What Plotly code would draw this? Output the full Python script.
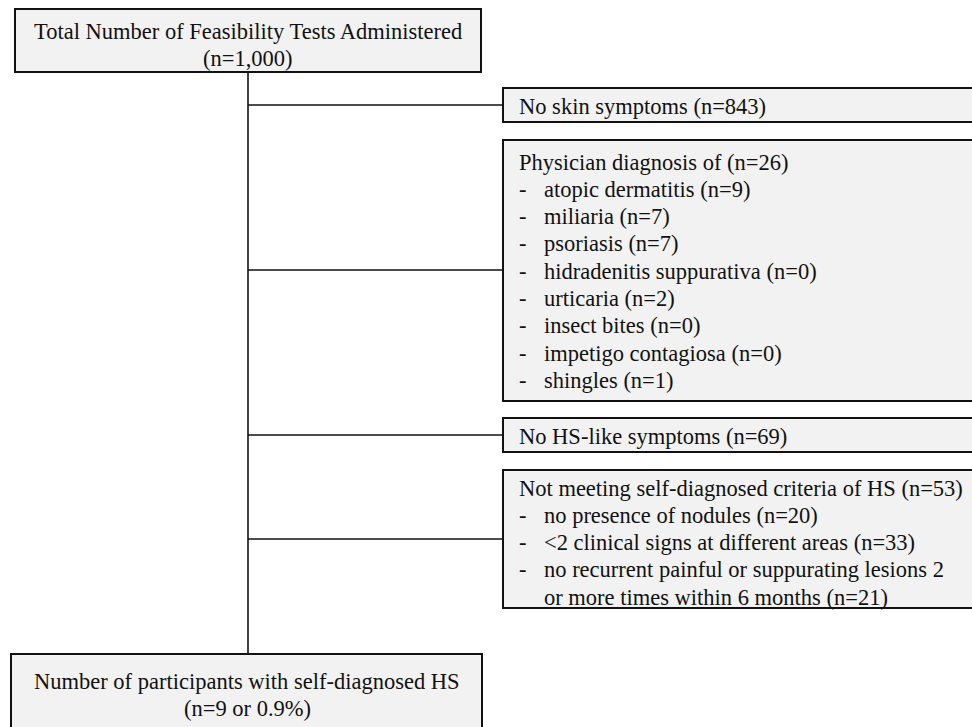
import plotly.graph_objects as go

# ---- data ----
total_label = "Total Number of Feasibility Tests Administered"
total_n = "1,000"
no_skin_label = "No skin symptoms"
no_skin_n = 843
physician_label = "Physician diagnosis of"
physician_n = 26
physician_items = ["atopic dermatitis", "miliaria", "psoriasis", "hidradenitis suppurativa",
                   "urticaria", "insect bites", "impetigo contagiosa", "shingles"]
physician_counts = [9, 7, 7, 0, 2, 0, 0, 1]
no_hs_label = "No HS-like symptoms"
no_hs_n = 69
criteria_label = "Not meeting self-diagnosed criteria of HS"
criteria_n = 53
criteria_items = ["no presence of nodules", "&lt;2 clinical signs at different areas",
                  "no recurrent painful or suppurating lesions 2|or more times within 6 months"]
criteria_counts = [20, 33, 21]
final_label = "Number of participants with self-diagnosed HS"
final_n = 9
final_pct = "0.9%"

# ---- styling / layout ----
FONT = "Liberation Serif"
FS = 22.5
FILL = "#f2f2f2"
EDGE = "#111111"
W, H = 972, 727

fig = go.Figure()
shapes = []
ann = []

def box(x0, y0, x1, y1):
    shapes.append(dict(type="rect", x0=x0, y0=y0, x1=x1, y1=y1, xref="x", yref="y",
                       fillcolor=FILL, line=dict(color=EDGE, width=2), layer="below"))

def line(x0, y0, x1, y1):
    shapes.append(dict(type="line", x0=x0, y0=y0, x1=x1, y1=y1, xref="x", yref="y",
                       line=dict(color=EDGE, width=1.6)))

def text(x, y, s, anchor="left"):
    ann.append(dict(x=x, y=y, xref="x", yref="y", text=s, showarrow=False,
                    xanchor=anchor, yanchor="middle", align=anchor,
                    font=dict(family=FONT, size=FS, color="#111111")))

# connectors
trunk_x = 248
line(trunk_x, 72, trunk_x, 654)
branch_y = [105, 270, 435, 539]
for by in branch_y:
    line(trunk_x, by, 503, by)

# top box
box(15, 9, 481, 72)
text(248, 31, total_label, "center")
text(248, 58, f"(n={total_n})", "center")

# right boxes
RX0, RX1 = 503, 990
TX, IX = 517, 542
LS = 27.3

box(RX0, 88, RX1, 122)
text(TX, 106, f"{no_skin_label} (n={no_skin_n})")

box(RX0, 140, RX1, 401)
text(TX, 162, f"{physician_label} (n={physician_n})")
for i, (lab, c) in enumerate(zip(physician_items, physician_counts)):
    y = 162 + (i + 1) * LS
    text(TX, y, "-")
    text(IX, y, f"{lab} (n={c})")

box(RX0, 418, RX1, 452)
text(TX, 436, f"{no_hs_label} (n={no_hs_n})")

box(RX0, 470, RX1, 608)
y = 488
text(TX, y, f"{criteria_label} (n={criteria_n})")
for lab, c in zip(criteria_items, criteria_counts):
    y += LS
    parts = lab.split("|")
    text(TX, y, "-")
    for j, p in enumerate(parts):
        if j == len(parts) - 1:
            p = f"{p} (n={c})"
        text(IX, y, p)
        if j < len(parts) - 1:
            y += LS

# bottom box
box(11, 654, 482, 745)
text(247, 681, final_label, "center")
text(247, 708, f"(n={final_n} or {final_pct})", "center")

fig.update_layout(
    width=W, height=H, margin=dict(l=0, r=0, t=0, b=0),
    paper_bgcolor="white", plot_bgcolor="white",
    xaxis=dict(range=[0, W], visible=False, fixedrange=True),
    yaxis=dict(range=[H, 0], visible=False, fixedrange=True),
    shapes=shapes, annotations=ann, showlegend=False,
)
fig.write_html("out.html", config=dict(displayModeBar=False),
               post_script="document.body.style.margin='0';document.body.style.overflow='hidden';")
